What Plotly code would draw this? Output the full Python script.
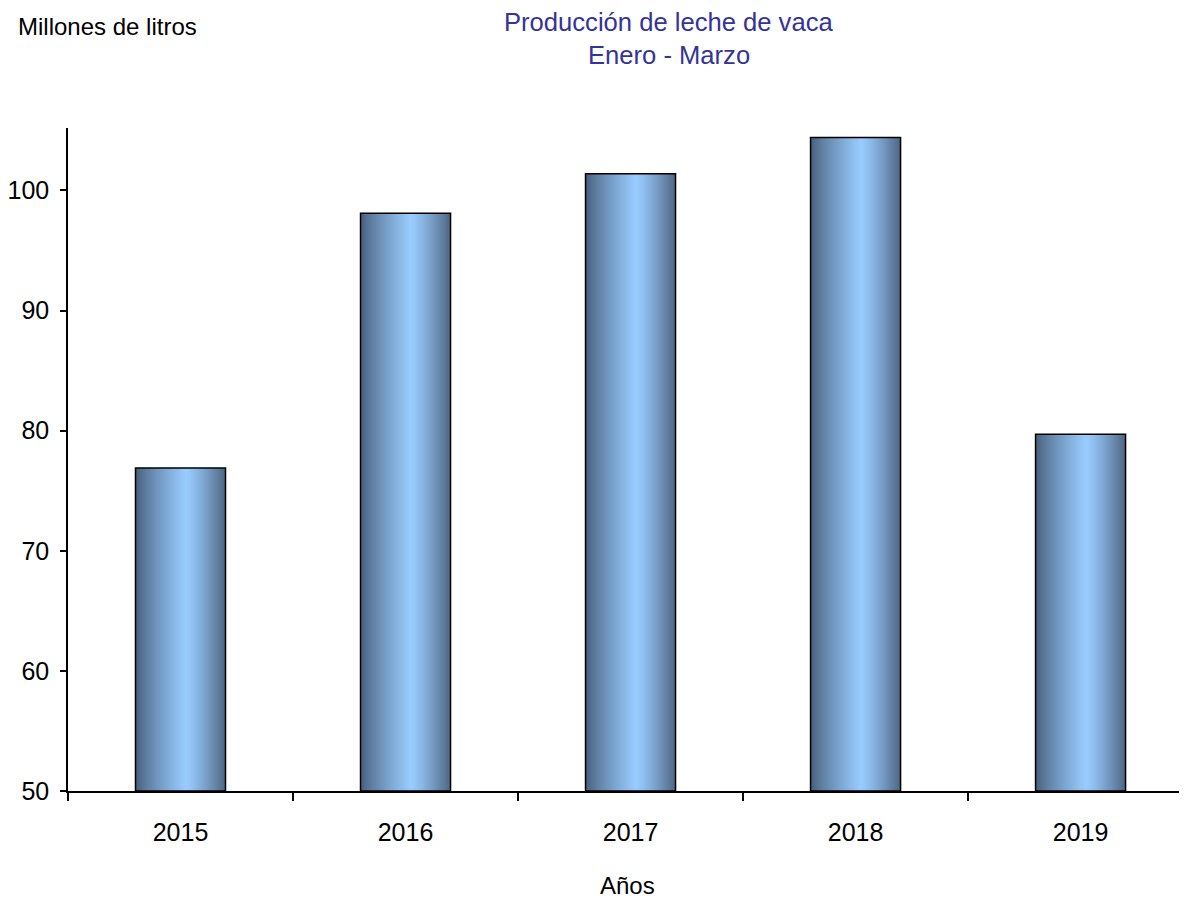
import plotly.graph_objects as go

years = ["2015", "2016", "2017", "2018", "2019"]
values = [76.9, 98.1, 101.4, 104.4, 79.7]
y_ticks = [50, 60, 70, 80, 90, 100]

BAR_W = 0.40
N = 40
DARK_L = (72, 94, 122)
DARK_R = (78, 100, 128)
LIGHT = (153, 204, 255)
PEAK = 0.02  # light peak offset from center (category units)


def mix(a, b, t):
    return "rgb(%d,%d,%d)" % tuple(round(a[k] + (b[k] - a[k]) * t) for k in range(3))


fig = go.Figure()
half = BAR_W / 2
heights = [v - 50 for v in values]
for i in range(N):
    t = i / (N - 1)
    left = -half + (PEAK + half) * t
    right = half - (half - PEAK) * t
    w = max(right - left, 0.002)
    fig.add_trace(go.Bar(
        x=years, y=heights, base=50, width=w, offset=left,
        marker=dict(color=mix(DARK_L, LIGHT, t ** 0.8), line=dict(width=0)),
        hoverinfo="skip", showlegend=False,
    ))
for i in range(N):
    t = i / (N - 1)
    left = PEAK + (half - PEAK) * t * 0.999
    w = max(half - left, 0.002)
    fig.add_trace(go.Bar(
        x=years, y=heights, base=50, width=w, offset=left,
        marker=dict(color=mix(LIGHT, DARK_R, t ** 1.25), line=dict(width=0)),
        hoverinfo="skip", showlegend=False,
    ))
fig.add_trace(go.Bar(
    x=years, y=heights, base=50, width=BAR_W, offset=-half,
    marker=dict(color="rgba(0,0,0,0)", line=dict(color="black", width=1.5)),
    name="Producción", showlegend=False,
))

FS = 25
TITLE_COLOR = "#333399"
fig.update_layout(
    width=1179, height=890,
    barmode="overlay",
    plot_bgcolor="white", paper_bgcolor="white",
    margin=dict(l=60, r=0, t=120, b=107),
    font=dict(family="Liberation Sans, Arial, sans-serif", size=FS, color="black"),
    xaxis=dict(
        type="category", range=[-0.5, 4.473], automargin=False,
        showline=True, linecolor="black", linewidth=1.5,
        ticks="outside", ticklen=8, tickwidth=1.5, tickcolor="black",
        tickson="boundaries", ticklabelstandoff=18,
        showgrid=False, zeroline=False,
    ),
    yaxis=dict(
        range=[50, 105.2], tickvals=y_ticks, automargin=False,
        showline=True, linecolor="black", linewidth=1.5,
        ticks="outside", ticklen=6, tickwidth=1.5, tickcolor="black",
        ticklabelstandoff=6,
        showgrid=False, zeroline=False,
    ),
    annotations=[
        dict(text="Millones de litros", xref="paper", yref="paper",
             x=-0.0465, y=1.1538, xanchor="left", yanchor="middle",
             showarrow=False, font=dict(size=FS - 1)),
        dict(text="Producción de leche de vaca", xref="paper", yref="paper",
             x=0.537, y=1.160, xanchor="center", yanchor="middle",
             showarrow=False, font=dict(size=FS + 0.6, color=TITLE_COLOR)),
        dict(text="Enero - Marzo", xref="paper", yref="paper",
             x=0.537, y=1.110, xanchor="center", yanchor="middle",
             showarrow=False, font=dict(size=FS + 0.6, color=TITLE_COLOR)),
        dict(text="Años", xref="paper", yref="paper",
             x=0.5004, y=-0.1418, xanchor="center", yanchor="middle",
             showarrow=False, font=dict(size=FS - 1)),
    ],
)

fig.write_html("out.html")
